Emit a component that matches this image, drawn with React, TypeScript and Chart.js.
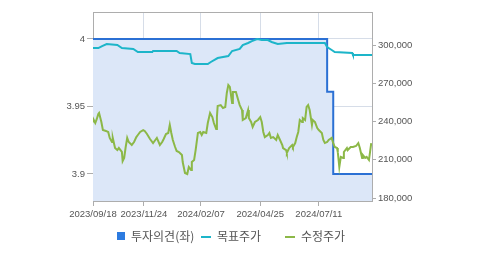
import React, { useEffect, useRef } from 'react';
import { Chart, registerables } from 'chart.js';

Chart.register(...registerables);

// ---- data ----
const startDate = '2023/09/18';
const endDate = '2024/09/19';
const tickLabels = ['2023/09/18', '2023/11/24', '2024/02/07', '2024/04/25', '2024/07/11'];
const leftTicks = [3.9, 3.95, 4];
const rightTicks = [180000, 210000, 240000, 270000, 300000];
const seriesLabels = ['투자의견(좌)', '목표주가', '수정주가'];

// 투자의견 (left axis), x = days since startDate
const opinionDays = [0, 308, 308, 316, 316, 367];
const opinionValues = [4, 4, 3.961, 3.961, 3.9, 3.9];

// 목표주가 (right axis)
const targetDays = [0, 7, 12, 18, 32, 38, 53, 59, 78, 79, 110, 114, 128, 130, 134, 151, 155, 164, 178, 183, 193, 197, 204, 209, 216, 222, 230, 235, 243, 255, 288, 305, 308, 314, 318, 341, 342, 367];
const targetPrices = [297600, 297600, 299200, 300800, 300000, 297600, 296900, 294500, 294500, 295300, 295300, 293700, 292900, 285900, 285100, 285100, 286700, 289800, 291400, 295300, 296900, 300000, 301600, 303100, 304700, 303900, 303900, 302400, 300800, 301600, 301600, 301600, 298400, 296100, 294500, 293700, 292200, 292200];

// 수정주가 (right axis)
const priceDays = [0, 1, 3, 5, 7, 8, 11, 13, 17, 20, 22, 25, 26, 29, 32, 34, 38, 39, 41, 43, 45, 47, 51, 54, 57, 59, 62, 66, 68, 71, 75, 79, 82, 84, 88, 91, 93, 96, 99, 101, 103, 105, 108, 110, 113, 117, 118, 121, 124, 126, 129, 130, 133, 135, 138, 141, 143, 145, 149, 151, 154, 157, 159, 162, 163, 164, 168, 171, 174, 176, 178, 180, 183, 184, 188, 191, 193, 196, 197, 201, 204, 205, 208, 210, 213, 217, 220, 222, 224, 226, 230, 232, 234, 237, 241, 243, 246, 249, 250, 254, 255, 258, 262, 263, 266, 268, 270, 272, 275, 276, 279, 281, 283, 285, 288, 289, 292, 295, 297, 301, 303, 305, 308, 310, 314, 316, 318, 321, 322, 324, 326, 329, 330, 334, 335, 339, 342, 346, 349, 351, 354, 355, 358, 360, 363, 366];
const prices = [240000, 241200, 238800, 242000, 245900, 246700, 239600, 233300, 232600, 231800, 227100, 223900, 227100, 219200, 217600, 219200, 216100, 209000, 211400, 220000, 227100, 223900, 221600, 223900, 227800, 229400, 231800, 233300, 232600, 230200, 226300, 223100, 225500, 227100, 221600, 223900, 226300, 230200, 231000, 237300, 231000, 225500, 220000, 216900, 216100, 213700, 208200, 199600, 198800, 204300, 202000, 208200, 209800, 217600, 231000, 231800, 229400, 231800, 231000, 238800, 246700, 243500, 238800, 234100, 243500, 252200, 252900, 250600, 251400, 262400, 268600, 267100, 254500, 263100, 263100, 256900, 252900, 249000, 241200, 242700, 249000, 242700, 239600, 235700, 239600, 241200, 243500, 239600, 231800, 227800, 229400, 231000, 227100, 227800, 225500, 229400, 225500, 221600, 219200, 217600, 215300, 219200, 221600, 220000, 223100, 227800, 231800, 241200, 239600, 242700, 241200, 251400, 252900, 249000, 237300, 241200, 239600, 234900, 233300, 231000, 225500, 223100, 223900, 225500, 227100, 223100, 220000, 219200, 216100, 204300, 212200, 211400, 216100, 219200, 217600, 220000, 220000, 220800, 223100, 219200, 211400, 213700, 211400, 212200, 209800, 223100];

// ---- helpers ----
function dayOf(s: string): number {
  const [y, m, d] = s.split('/').map(Number);
  const [y0, m0, d0] = startDate.split('/').map(Number);
  return Math.round((Date.UTC(y, m - 1, d) - Date.UTC(y0, m0 - 1, d0)) / 86400000);
}
const tickDays = tickLabels.map(dayOf);
const xMax = dayOf(endDate);

const zip = (xs: number[], ys: number[]) => xs.map((x, i) => ({ x, y: ys[i] }));

const BLUE = '#2b70d4';
const CYAN = '#1db5c9';
const GREEN = '#8cb847';
const GRID = '#d6dde8';
const AXIS = '#adadad';
const TICK_FONT = { size: 9.5 };

const legendPlugin = {
  id: 'columnLegend',
  afterDraw(chart: any) {
    const ctx = chart.ctx;
    const colW = 84;
    const ds = chart.data.datasets;
    const startX = (chart.width - colW * ds.length) / 2 + 3.5;
    const cy = chart.height - 19;
    ds.forEach((d: any, i: number) => {
      const x = startX + i * colW;
      ctx.save();
      let tx;
      if (i === 0) {
        ctx.fillStyle = '#2d7be0';
        ctx.fillRect(x, cy - 4, 8, 8);
        tx = x + 14;
      } else {
        ctx.strokeStyle = d.borderColor;
        ctx.lineWidth = 2;
        ctx.beginPath();
        ctx.moveTo(x, cy + 1);
        ctx.lineTo(x + 10, cy + 1);
        ctx.stroke();
        tx = x + 16;
      }
      ctx.font = '12px "Noto Sans CJK KR"';
      ctx.fillStyle = '#555';
      ctx.textBaseline = 'middle';
      ctx.textAlign = 'left';
      ctx.fillText(d.label, tx, cy);
      ctx.restore();
    });
  },
};

const topBorderPlugin = {
  id: 'topBorder',
  beforeDatasetsDraw(chart: any) {
    const { ctx, chartArea } = chart;
    ctx.save();
    ctx.strokeStyle = AXIS;
    ctx.lineWidth = 1;
    ctx.beginPath();
    ctx.moveTo(chartArea.left, chartArea.top + 0.5);
    ctx.lineTo(chartArea.right, chartArea.top + 0.5);
    ctx.stroke();
    ctx.restore();
  },
};

export default function App() {
  const ref = useRef<HTMLCanvasElement>(null);
  useEffect(() => {
    if (!ref.current) return;
    Chart.defaults.font.family = '"Liberation Sans", Arial, sans-serif';
    const chart = new Chart(ref.current, {
      type: 'line',
      data: {
        datasets: [
          {
            label: seriesLabels[0],
            data: zip(opinionDays, opinionValues),
            yAxisID: 'y',
            borderColor: BLUE,
            backgroundColor: '#dce7f8',
            borderWidth: 2,
            pointRadius: 0,
            fill: 'start',
            order: 3,
          },
          {
            label: seriesLabels[1],
            data: zip(targetDays, targetPrices),
            yAxisID: 'y1',
            borderColor: CYAN,
            borderWidth: 2,
            pointRadius: 0,
            fill: false,
            order: 1,
          },
          {
            label: seriesLabels[2],
            data: zip(priceDays, prices),
            yAxisID: 'y1',
            borderColor: GREEN,
            borderWidth: 2,
            pointRadius: 0,
            fill: false,
            order: 2,
          },
        ],
      },
      options: {
        responsive: false,
        animation: false,
        devicePixelRatio: 1,
        layout: { padding: { top: 12, bottom: 34, left: 0, right: 0 } },
        plugins: {
          legend: { display: false },
          tooltip: { enabled: false },
        },
        scales: {
          x: {
            type: 'linear',
            min: 0,
            max: xMax,
            afterBuildTicks: (s: any) => {
              s.ticks = tickDays.map((v) => ({ value: v }));
            },
            afterFit: (s: any) => {
              s.height = 20;
            },
            ticks: {
              autoSkip: false,
              maxRotation: 0,
              padding: 3,
              color: '#555',
              font: TICK_FONT,
              callback: (_v: any, i: number) => tickLabels[i],
            },
            grid: { color: GRID, tickColor: AXIS, tickLength: 5 },
            border: { color: AXIS },
          },
          y: {
            type: 'linear',
            position: 'left',
            min: 3.88,
            max: 4.02,
            afterBuildTicks: (s: any) => {
              s.ticks = leftTicks.map((v) => ({ value: v }));
            },
            afterFit: (s: any) => {
              s.width = 93;
            },
            ticks: {
              padding: 2,
              color: '#555',
              font: TICK_FONT,
              callback: (v: any) => String(v),
            },
            grid: { color: GRID, tickColor: AXIS, tickLength: 6 },
            border: { color: AXIS },
          },
          y1: {
            type: 'linear',
            position: 'right',
            min: 177650,
            max: 325900,
            afterBuildTicks: (s: any) => {
              s.ticks = rightTicks.map((v) => ({ value: v }));
            },
            afterFit: (s: any) => {
              s.width = 107;
            },
            ticks: {
              padding: 2,
              color: '#555',
              font: TICK_FONT,
              callback: (v: any) => Number(v).toLocaleString('en-US'),
            },
            grid: { drawOnChartArea: false, tickColor: AXIS, tickLength: 4 },
            border: { color: AXIS },
          },
        },
      },
      plugins: [topBorderPlugin, legendPlugin],
    } as any);
    return () => chart.destroy();
  }, []);

  return (
    <div style={{ position: 'absolute', left: 0, top: 0, width: 479, height: 255, background: '#fff' }}>
      <canvas ref={ref} width={479} height={255} style={{ width: 479, height: 255, display: 'block' }} />
    </div>
  );
}
